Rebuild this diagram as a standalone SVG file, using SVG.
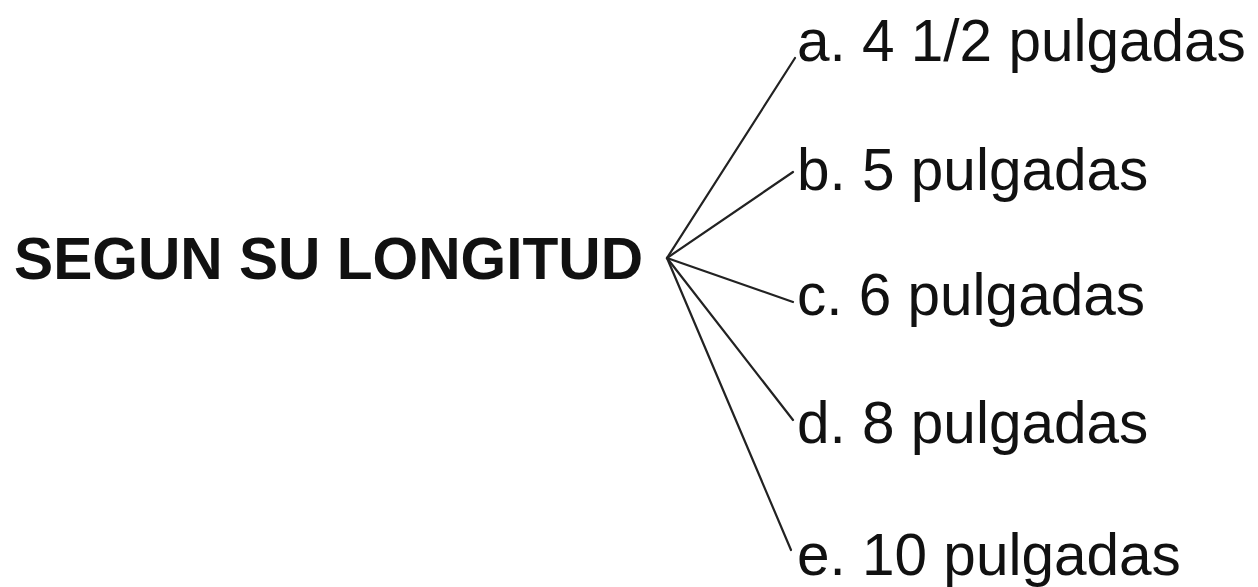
<svg xmlns="http://www.w3.org/2000/svg" width="1258" height="587" viewBox="0 0 1258 587">
<style>
text{font-family:"Liberation Sans",Arial,Helvetica,sans-serif;fill:#111}
.t{font-weight:bold;font-size:58.5px}
.l{font-size:58.5px}
.c line{stroke:#222;stroke-width:2.2;stroke-linecap:round}
</style>
<rect width="1258" height="587" fill="#fff"/>
<g id="title"><text class="t" x="14" y="279" textLength="629" lengthAdjust="spacingAndGlyphs">SEGUN SU LONGITUD</text></g>
<g class="c" id="connectors">
<line x1="667" y1="258" x2="795" y2="58"/>
<line x1="667" y1="258" x2="793" y2="172"/>
<line x1="667" y1="258" x2="793" y2="302"/>
<line x1="667" y1="258" x2="793" y2="420"/>
<line x1="667" y1="258" x2="791" y2="550"/>
</g>
<g id="a"><text class="l" x="797" y="61">a. 4 1/2 pulgadas</text></g>
<g id="b"><text class="l" x="797" y="190">b. 5 pulgadas</text></g>
<g id="c"><text class="l" x="797" y="315">c. 6 pulgadas</text></g>
<g id="d"><text class="l" x="797" y="443">d. 8 pulgadas</text></g>
<g id="e"><text class="l" x="797" y="575">e. 10 pulgadas</text></g>
</svg>
